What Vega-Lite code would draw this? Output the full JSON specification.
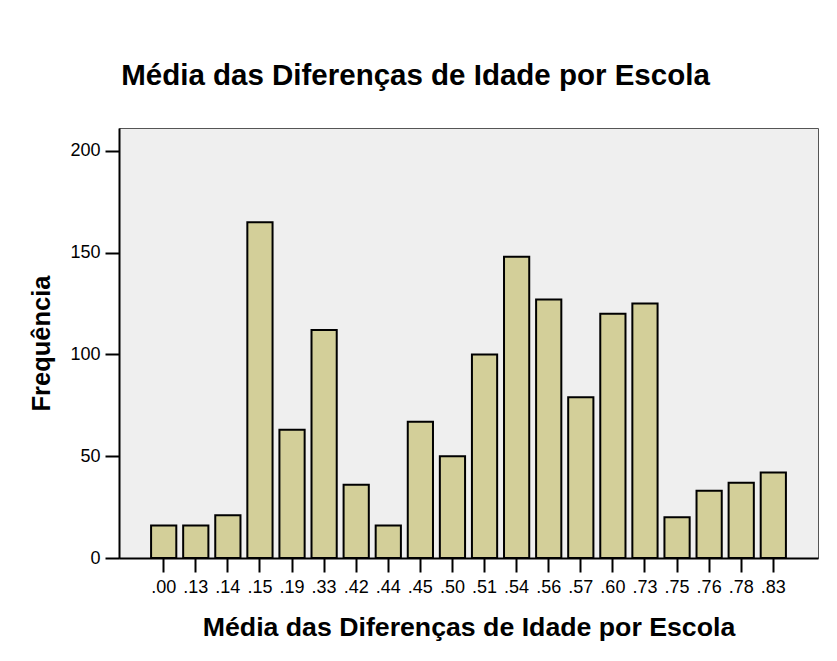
{
  "$schema": "https://vega.github.io/schema/vega-lite/v6.json",
  "width": 699,
  "height": 430,
  "autosize": "none",
  "padding": {"left": 119, "top": 128, "right": 19, "bottom": 103},
  "background": "white",
  "title": {
    "text": "Média das Diferenças de Idade por Escola",
    "font": "Liberation Sans",
    "fontSize": 29.5,
    "fontWeight": "bold",
    "color": "black",
    "anchor": "middle",
    "dx": -53,
    "offset": 37
  },
  "data": {
    "values": [
      {"media": ".00", "freq": 16},
      {"media": ".13", "freq": 16},
      {"media": ".14", "freq": 21},
      {"media": ".15", "freq": 165},
      {"media": ".19", "freq": 63},
      {"media": ".33", "freq": 112},
      {"media": ".42", "freq": 36},
      {"media": ".44", "freq": 16},
      {"media": ".45", "freq": 67},
      {"media": ".50", "freq": 50},
      {"media": ".51", "freq": 100},
      {"media": ".54", "freq": 148},
      {"media": ".56", "freq": 127},
      {"media": ".57", "freq": 79},
      {"media": ".60", "freq": 120},
      {"media": ".73", "freq": 125},
      {"media": ".75", "freq": 20},
      {"media": ".76", "freq": 33},
      {"media": ".78", "freq": 37},
      {"media": ".83", "freq": 42}
    ]
  },
  "mark": {"type": "bar", "fill": "#D3CF99", "stroke": "black", "strokeWidth": 2},
  "encoding": {
    "x": {
      "field": "media",
      "type": "ordinal",
      "sort": null,
      "scale": {"paddingInner": 0.214, "paddingOuter": 1.23},
      "axis": {
        "title": "Média das Diferenças de Idade por Escola",
        "titleFont": "Liberation Sans",
        "titleFontSize": 26.7,
        "titleFontWeight": "bold",
        "titleColor": "black",
        "titlePadding": 18,
        "labelAngle": 0,
        "labelFont": "Liberation Sans",
        "labelFontSize": 18,
        "labelColor": "black",
        "labelPadding": 6,
        "tickSize": 14,
        "tickWidth": 2,
        "tickColor": "black",
        "domainColor": "black",
        "domainWidth": 2,
        "grid": false
      }
    },
    "y": {
      "field": "freq",
      "type": "quantitative",
      "scale": {"domain": [0, 211.3], "nice": false},
      "axis": {
        "title": "Frequência",
        "titleFont": "Liberation Sans",
        "titleFontSize": 25.5,
        "titleFontWeight": "bold",
        "titleColor": "black",
        "titlePadding": 15,
        "values": [0, 50, 100, 150, 200],
        "labelFont": "Liberation Sans",
        "labelFontSize": 18,
        "labelColor": "black",
        "labelPadding": 5,
        "tickSize": 14,
        "tickWidth": 2,
        "tickColor": "black",
        "domainColor": "black",
        "domainWidth": 2,
        "grid": false
      }
    }
  },
  "config": {
    "view": {"fill": "#EFEFEF", "stroke": "#555555", "strokeWidth": 1}
  }
}
